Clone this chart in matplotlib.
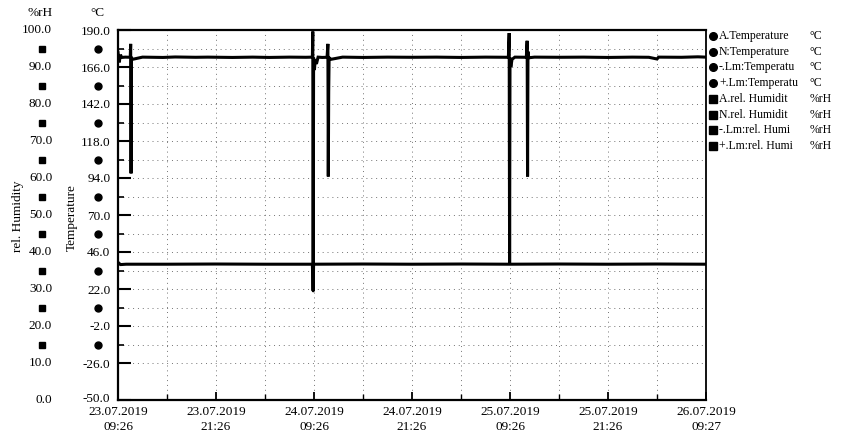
import matplotlib
matplotlib.use('Agg')
import matplotlib.pyplot as plt
import matplotlib.transforms as mtransforms
from matplotlib.lines import Line2D

plt.rcParams['font.family'] = ['Liberation Serif', 'DejaVu Serif']

# ---------------- data ----------------
x_tick_hours = [0, 12, 24, 36, 48, 60, 72]
x_tick_labels = ["23.07.2019\n09:26", "23.07.2019\n21:26", "24.07.2019\n09:26",
                 "24.07.2019\n21:26", "25.07.2019\n09:26", "25.07.2019\n21:26",
                 "26.07.2019\n09:27"]

temp_ticks = [190, 166, 142, 118, 94, 70, 46, 22, -2, -26, -50]
temp_tick_labels = ["190.0", "166.0", "142.0", "118.0", "94.0", "70.0", "46.0",
                    "22.0", "-2.0", "-26.0", "-50.0"]
hum_ticks = [100, 90, 80, 70, 60, 50, 40, 30, 20, 10, 0]
hum_tick_labels = ["100.0", "90.0", "80.0", "70.0", "60.0", "50.0", "40.0",
                   "30.0", "20.0", "10.0", "0.0"]

temp_hours = [0.0, 0.15, 0.3, 0.45, 0.9, 1.5, 1.55, 1.6, 1.65, 1.8,
              3.0, 5.5, 7.0, 9.5, 11.0, 14.0, 16.5, 18.5, 21.0, 23.0,
              23.8, 23.85, 23.9, 23.95, 24.05, 24.15, 24.3, 24.5, 25.0, 25.6,
              25.7, 25.75, 25.8, 25.85, 26.1, 27.5, 30.0, 33.0, 36.0, 39.0,
              42.0, 45.0, 47.8, 47.9, 47.95, 48.0, 48.1, 48.25, 48.6, 50.0,
              50.1, 50.15, 50.2, 50.3, 51.0, 54.0, 57.0, 60.0, 63.0, 65.0,
              66.0, 66.2, 69.0, 71.0, 72.0]
temp_vals = [175.5, 169.0, 174.0, 172.2, 172.4, 172.3, 181.0, 97.0, 172.0, 171.0,
             172.4, 172.2, 172.5, 172.3, 172.4, 172.2, 172.4, 172.2, 172.4, 172.3,
             172.4, 189.0, 21.0, 172.0, 164.0, 171.0, 168.0, 172.4, 172.2, 172.3,
             181.0, 95.0, 150.0, 172.0, 171.0, 172.4, 172.2, 172.4, 172.3, 172.4,
             172.2, 172.4, 172.3, 188.0, 38.0, 172.0, 166.0, 171.0, 172.4, 172.3,
             183.0, 95.0, 176.0, 172.0, 172.4, 172.3, 172.4, 172.2, 172.4, 172.3,
             171.2, 172.4, 172.3, 172.6, 172.4]

hum_hours = [0.0, 0.3, 1.0, 6.0, 12.0, 18.0, 23.8, 23.9, 23.95, 30.0,
             36.0, 42.0, 48.0, 54.0, 60.0, 66.0, 72.0]
hum_vals = [37.2, 36.6, 36.7, 36.7, 36.75, 36.7, 36.7, 29.5, 36.7, 36.75,
            36.7, 36.75, 36.7, 36.75, 36.7, 36.75, 36.7]

legend_names = ["A.Temperature", "N:Temperature", "-.Lm:Temperatu", "+.Lm:Temperatu",
                "A.rel. Humidit", "N.rel. Humidit", "-.Lm:rel. Humi", "+.Lm:rel. Humi"]
legend_units = ["°C", "°C", "°C", "°C", "%rH", "%rH", "%rH", "%rH"]
legend_markers = ["o", "o", "o", "o", "s", "s", "s", "s"]

# ---------------- figure ----------------
W, H = 843, 441
fig = plt.figure(figsize=(W / 100, H / 100), dpi=100)
L, R, T, B = 118, 706, 30, 400
ax = fig.add_axes([L / W, 1 - B / H, (R - L) / W, (B - T) / H])

ax.set_xlim(0, 72)
ax.set_ylim(-50, 190)
ax.set_xticks(x_tick_hours)
ax.set_xticklabels(x_tick_labels, fontsize=9.5, linespacing=1.35)
ax.set_xticks([h + 6 for h in x_tick_hours[:-1]], minor=True)
ax.set_yticks(temp_ticks)
ax.set_yticklabels(temp_tick_labels, fontsize=9.5)
temp_mid = [t - 12 for t in temp_ticks[:-2]]
ax.set_yticks(temp_mid, minor=True)

ax.tick_params(axis='y', which='major', direction='in', length=9.5, width=1.5, pad=5.5)
ax.tick_params(axis='y', which='minor', direction='in', length=4.5, width=1.2)
ax.tick_params(axis='x', which='major', direction='in', length=6, width=1.3, pad=4.5)
ax.tick_params(axis='x', which='minor', direction='in', length=4, width=1.0)

# nudge the lowest temperature label up slightly so it clears the date label
lowest = ax.get_yticklabels()[-1]
lowest.set_transform(lowest.get_transform() +
                     mtransforms.ScaledTranslation(0, 3 / 100, fig.dpi_scale_trans))

ax.grid(True, which='both', linestyle=(0, (1, 4)), color='0.45', linewidth=0.7)
for s in ['left', 'bottom', 'top']:
    ax.spines[s].set_linewidth(1.6)
ax.spines['right'].set_linewidth(1.3)

ax.plot(temp_hours, temp_vals, color='black', linewidth=2.2, solid_joinstyle='miter')

ax2 = ax.twinx()
ax2.set_ylim(0, 100)
ax2.set_yticks([])
for s in ax2.spines.values():
    s.set_visible(False)
ax2.plot(hum_hours, hum_vals, color='black', linewidth=2.2)

# left-side axis columns
bt = mtransforms.blended_transform_factory(ax.transAxes, ax.transData)
bh = mtransforms.blended_transform_factory(ax2.transAxes, ax2.transData)
ax.plot([-0.034] * len(temp_mid), temp_mid, 'o', color='black', ms=5,
        transform=bt, clip_on=False)
hum_mid = [h - 5 for h in hum_ticks[:-2]]
ax2.plot([-0.129] * len(hum_mid), hum_mid, 's', color='black', ms=4.5,
         transform=bh, clip_on=False)
for v, lab in zip(hum_ticks, hum_tick_labels):
    ax2.text(-0.112, v, lab, transform=bh, ha='right', va='center', fontsize=9.5,
             clip_on=False)

fig.text(40 / W, 1 - 13 / H, "%rH", ha='center', va='center', fontsize=9.5)
fig.text(97 / W, 1 - 13 / H, "°C", ha='center', va='center', fontsize=9.5)
fig.text(18 / W, 1 - 216 / H, "rel. Humidity", rotation=90, ha='center',
         va='center', fontsize=9.5)
fig.text(72 / W, 1 - 218 / H, "Temperature", rotation=90, ha='center',
         va='center', fontsize=9.5)

# legend
y0, dy = 36, 15.7
for i, (name, unit, mk) in enumerate(zip(legend_names, legend_units, legend_markers)):
    y = 1 - (y0 + i * dy) / H
    fig.add_artist(Line2D([713 / W], [y], marker=mk, ms=5.5, color='black',
                          linestyle='none', transform=fig.transFigure))
    fig.text(719 / W, y, name, ha='left', va='center', fontsize=8.5)
    fig.text(810 / W, y, unit, ha='left', va='center', fontsize=8.5)

fig.savefig('out.png', dpi=100)
